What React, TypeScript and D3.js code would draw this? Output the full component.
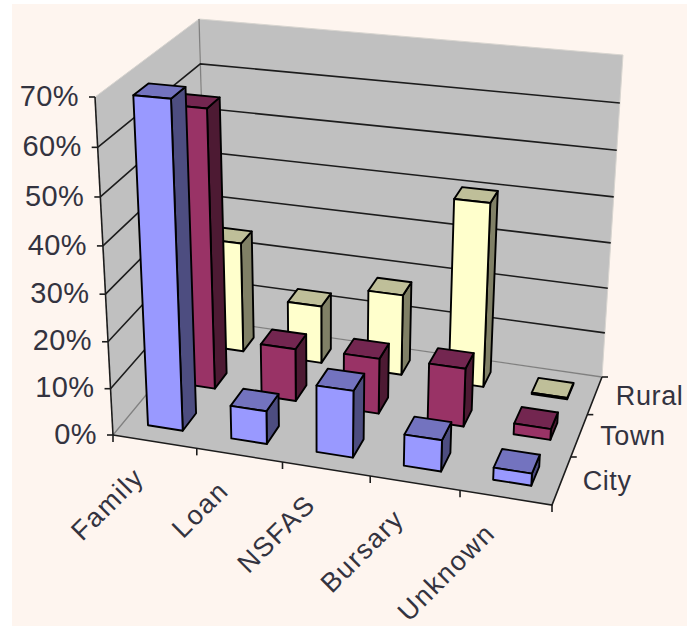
import React from "react";
import * as d3 from "d3";

type Pt = [number, number];

const categories = ["Family", "Loan", "NSFAS", "Bursary", "Unknown"];
const seriesNames = ["City", "Town", "Rural"];
const cityValues = [69, 7, 14, 6.5, 2.5];
const townValues = [61, 11.5, 12, 12.5, 2.3];
const ruralValues = [25, 13, 18, 40.5, 0.3];
const percentTicks = [0, 10, 20, 30, 40, 50, 60, 70];

const seriesValues = [cityValues, townValues, ruralValues];
const faceColors = [
  { front: "#9999FF", top: "#7373BF", side: "#4D4D80" },
  { front: "#993366", top: "#732650", side: "#4D1A33" },
  { front: "#FFFFCC", top: "#BFBF99", side: "#808066" },
];

// Projected corners of the chart box: Front/Back, Left/Right, floor(0)/ceiling(1)
const FL0: Pt = [113, 435], FR0: Pt = [552, 505], BL0: Pt = [208, 320], BR0: Pt = [602, 377];
const FL1: Pt = [95, 97], FR1: Pt = [572, 142], BL1: Pt = [199, 19], BR1: Pt = [623, 55];

const warp = (k: number) => (t: number) => t / (t + k * (1 - t));
const xNorm = d3.scaleLinear().domain([0, categories.length]).range([0, 1]);
const zNorm = d3.scaleLinear().domain([0, seriesNames.length]).range([0, 1]);
const yNorm = d3.scaleLinear().domain([0, 70]).range([0, 1]);
const warpX = warp(1.06), warpZ = warp(0.833), warpY = warp(1.05);

const mix = (a: Pt, b: Pt, t: number): Pt => [a[0] + (b[0] - a[0]) * t, a[1] + (b[1] - a[1]) * t];

function project(cat: number, val: number, row: number): Pt {
  const u = warpX(xNorm(cat)), v = warpZ(zNorm(row)), w = warpY(yNorm(val));
  const low = mix(mix(FL0, FR0, u), mix(BL0, BR0, u), v);
  const high = mix(mix(FL1, FR1, u), mix(BL1, BR1, u), v);
  return mix(low, high, w);
}

const poly = d3.line<Pt>().x((d) => d[0]).y((d) => d[1]);
const closed = (pts: Pt[]) => (poly(pts) as string) + "Z";

const BG = "#FEF5EF", WALL = "#C0C0C0", INK = "#1c1c1c", SEAM = "#808080";
const FONT = "'Liberation Sans', Arial, sans-serif";
const TEXT = "#33333f";
const nCat = categories.length, nRow = seriesNames.length;

function Bar({ c, r, value }: { c: number; r: number; value: number }) {
  const halfX = 0.21, halfZ = 0.2;
  const x0 = c + 0.5 - halfX, x1 = c + 0.5 + halfX, z0 = r + 0.5 - halfZ, z1 = r + 0.5 + halfZ;
  const col = faceColors[r];
  return (
    <g stroke="#000" strokeWidth={1.9} strokeLinejoin="round">
      <path d={closed([project(x1, 0, z0), project(x1, 0, z1), project(x1, value, z1), project(x1, value, z0)])} fill={col.side} />
      <path d={closed([project(x0, value, z0), project(x1, value, z0), project(x1, value, z1), project(x0, value, z1)])} fill={col.top} />
      <path d={closed([project(x0, 0, z0), project(x1, 0, z0), project(x1, value, z0), project(x0, value, z0)])} fill={col.front} />
    </g>
  );
}

export default function App() {
  return (
    <svg width={687} height={626} style={{ position: "absolute", left: 0, top: 0, background: "#fff", display: "block" }}>
      <rect x={12} y={4} width={675} height={622} fill={BG} />
      <path d={closed([FL0, BL0, BL1, FL1])} fill={WALL} stroke="#d8d5d0" strokeWidth={1} />
      <path d={closed([BL0, BR0, BR1, BL1])} fill={WALL} stroke="#d8d5d0" strokeWidth={1} />
      <path d={closed([FL0, FR0, BR0, BL0])} fill={WALL} />

      {/* wall corner and floor seams */}
      <g stroke={SEAM} strokeWidth={1.3} fill="none">
        <path d={poly([BL0, BL1]) as string} />
        <path d={poly([FL0, BL0, BR0]) as string} />
      </g>

      {/* grid lines on the walls */}
      <g stroke={INK} strokeWidth={1.6} fill="none">
        {percentTicks.slice(1, -1).map((t) => (
          <path key={t} d={poly([project(0, t, 0), project(0, t, nRow), project(nCat, t, nRow)]) as string} />
        ))}
      </g>

      {/* axes and ticks */}
      <g stroke={INK} strokeWidth={1.6} fill="none">
        <path d={poly([project(0, 0, 0), project(0, 70, 0)]) as string} />
        <path d={poly([project(0, 0, 0), project(nCat, 0, 0), project(nCat, 0, nRow)]) as string} />
        {percentTicks.map((t) => {
          const p = project(0, t, 0);
          return <line key={t} x1={p[0] - 6} y1={p[1]} x2={p[0]} y2={p[1]} />;
        })}
        {d3.range(0, nCat + 1).map((c) => {
          const p = project(c, 0, 0);
          return <line key={c} x1={p[0]} y1={p[1]} x2={p[0]} y2={p[1] + 7} />;
        })}
        {d3.range(1, nRow + 1).map((r) => {
          const p = project(nCat, 0, r);
          return <line key={r} x1={p[0]} y1={p[1]} x2={p[0] + 6} y2={p[1]} />;
        })}
      </g>

      {/* bars, back row first */}
      {d3.range(nRow - 1, -1, -1).map((r) =>
        d3.range(0, nCat).map((c) => <Bar key={`${r}-${c}`} c={c} r={r} value={seriesValues[r][c]} />)
      )}

      {/* labels */}
      <g fontFamily={FONT} fill={TEXT}>
        {percentTicks.map((t) => {
          const p = project(0, t, 0);
          return (
            <text key={t} x={p[0] - 16} y={p[1]} dy="0.3em" textAnchor="end" fontSize={29} letterSpacing={0.4}>
              {`${t}%`}
            </text>
          );
        })}
        {categories.map((name, i) => {
          const p = project(i + 0.5, 0, 0);
          return (
            <text key={name} transform={`translate(${p[0] - 9},${p[1] + 37}) rotate(-45)`} textAnchor="end" fontSize={27} letterSpacing={1.7}>
              {name}
            </text>
          );
        })}
        {seriesNames.map((name, r) => {
          const p = project(nCat, 0, r + 0.5);
          return (
            <text key={name} x={p[0] + 21} y={p[1]} dy="0.35em" fontSize={27} letterSpacing={0.6}>
              {name}
            </text>
          );
        })}
      </g>
    </svg>
  );
}
